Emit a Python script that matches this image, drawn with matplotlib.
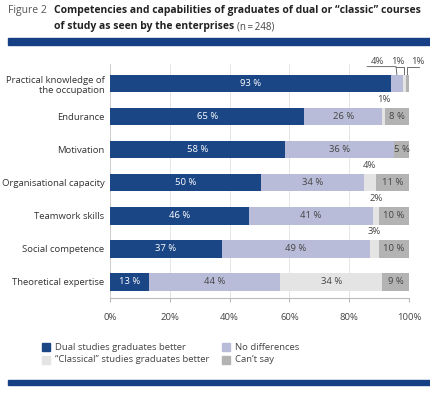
import matplotlib.pyplot as plt
import numpy as np

categories = ["Practical knowledge of\nthe occupation", "Endurance", "Motivation",
              "Organisational capacity", "Teamwork skills", "Social competence",
              "Theoretical expertise"]
dual = [93, 65, 58, 50, 46, 37, 13]
no_diff = [4, 26, 36, 34, 41, 49, 44]
classical = [1, 1, 0, 4, 2, 3, 34]
cant_say = [1, 8, 5, 11, 10, 10, 9]
series_names = ["Dual studies graduates better", "No differences",
                "\u201cClassical\u201d studies graduates better", "Can\u2019t say"]

colors = ["#1b4686", "#b9bcd8", "#e4e4e4", "#b3b3b3"]
text_colors = ["white", "#444444", "#444444", "#444444"]
blue_rule = "#173f86"

plt.rcParams["font.family"] = ["Open Sans", "DejaVu Sans"]

fig = plt.figure(figsize=(4.3, 3.93), dpi=100)
ax = fig.add_axes([110 / 430, 95 / 393, 299 / 430, 234 / 393])

data = np.array([dual, no_diff, classical, cant_say], dtype=float)
totals = data.sum(axis=0)
widths = data / totals * 100
y = np.arange(len(categories))
left = np.zeros(len(categories))

for k in range(4):
    ax.barh(y, widths[k], left=left, height=0.52, color=colors[k], zorder=3)
    for i in range(len(categories)):
        v = data[k, i]
        w = widths[k, i]
        if v >= 5:
            ax.text(left[i] + w / 2, y[i], f"{int(v)} %", ha="center", va="center",
                    fontsize=6.8, color=text_colors[k], zorder=4)
        elif v > 0 and i > 0:
            ax.text(left[i] + w / 2, y[i] - 0.4, f"{int(v)}%", ha="center",
                    va="bottom", fontsize=6.8, color="#444444", zorder=4)
    left += widths[k]

# leader labels for the first row
x0 = widths[0, 0]
c1 = x0 + widths[1, 0] / 2
c2 = x0 + widths[1, 0] + widths[2, 0] / 2
c3 = x0 + widths[1, 0] + widths[2, 0] + widths[3, 0] / 2
yb = -0.27
yl = -0.52
lc = "#555555"
ax.plot([86, c1 - 0.3, c1], [yl, yl, yb], color=lc, lw=0.6, clip_on=False)
ax.text(89.5, yl - 0.02, "4%", ha="center", va="bottom", fontsize=6.8, color="#444444")
ax.plot([95.8, c2, c2], [yl, yl, yb], color=lc, lw=0.6, clip_on=False)
ax.text(96.3, yl - 0.02, "1%", ha="center", va="bottom", fontsize=6.8, color="#444444")
ax.plot([c3, c3, 103.5], [yb, yl, yl], color=lc, lw=0.6, clip_on=False)
ax.text(103, yl - 0.02, "1%", ha="center", va="bottom", fontsize=6.8, color="#444444")

ax.set_yticks(y)
ax.set_yticklabels(categories, fontsize=6.8, color="#333333")
ax.set_ylim(6.485, -0.6)
ax.set_xlim(0, 100)
ax.set_xticks(np.arange(0, 101, 20))
ax.set_xticklabels([f"{t}%" for t in range(0, 101, 20)], fontsize=6.8, color="#444444")
ax.tick_params(axis="y", length=0, pad=4)
ax.tick_params(axis="x", length=3, color="#bbbbbb", pad=8)
ax.grid(axis="x", color="#e6e6e6", lw=0.7, zorder=0)
for s in ["top", "right"]:
    ax.spines[s].set_visible(False)
ax.spines["left"].set_color("#cccccc")
ax.spines["bottom"].set_color("#bbbbbb")
ax.spines["left"].set_linewidth(0.7)
ax.spines["bottom"].set_linewidth(0.8)

# title
fig.text(8 / 430, 1 - 11 / 393, "Figure 2", fontsize=7.5, color="#555555", va="center")
fig.text(54 / 430, 1 - 11 / 393,
         "Competencies and capabilities of graduates of dual or \u201cclassic\u201d courses",
         fontsize=7.5, fontweight="bold", color="#222222", va="center")
t = fig.text(54 / 430, 1 - 27 / 393, "of study as seen by the enterprises",
             fontsize=7.5, fontweight="bold", color="#222222", va="center")
fig.canvas.draw()
bb = t.get_window_extent()
fig.text(bb.x1 / 430 + 0.006, 1 - 27 / 393, "(n\u2009=\u2009248)", fontsize=7,
         color="#444444", va="center")

# blue rules
fig.patches.append(plt.Rectangle((8 / 430, 1 - 45 / 393), 1, 7 / 393,
                                 transform=fig.transFigure, color=blue_rule))
fig.patches.append(plt.Rectangle((8 / 430, 1 - 385 / 393), 1, 5 / 393,
                                 transform=fig.transFigure, color=blue_rule))

# legend
leg_pos = [(42, 347), (222, 347), (42, 360), (222, 360)]
for k in range(4):
    lx, ly = leg_pos[k]
    fig.patches.append(plt.Rectangle((lx / 430, 1 - (ly + 4) / 393), 8 / 430, 8 / 393,
                                     transform=fig.transFigure, color=colors[k]))
    fig.text((lx + 13) / 430, 1 - ly / 393, series_names[k], fontsize=6.8,
             color="#444444", va="center")

fig.savefig("out.png", dpi=100)
